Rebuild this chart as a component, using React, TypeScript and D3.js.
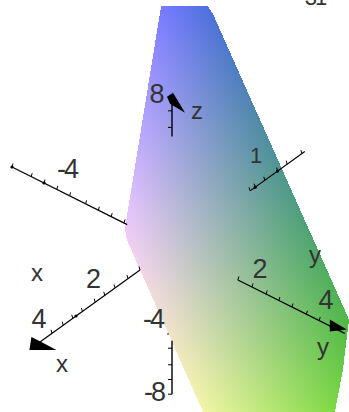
import React, { useEffect, useRef } from "react";
import * as d3 from "d3";

const WIDTH = 349;
const HEIGHT = 412;

// plane outline (taken at z = 0)
const surfaceX = [-6.04, -6.64, -6.5, -0.6, -0.4, 0.96, 2.14, 3.83, 0.4, 0.12];
const surfaceY = [-6.38, -5.52, -5.22, 4.8, 5.13, 6.3, 7.23, 4.8, -1.01, -1.35];

// three outline points and their colours fix the colour ramp of the plane
const anchorIndex = [9, 4, 7];
const anchorColors = ["#eecafa", "#4fb848", "#f2f5a5"];

// visible pieces of the axes
const xSegments = [[1, 4.3], [-4.15, -2.44]];
const ySegments = [[-5, -1.4], [2.06, 5.4]];
const zSegments = [[6, 8], [-8, -5.1]];

const xTicks = [1, 1.375, 1.78, 2.1, 2.4, 2.8, 3.1, 3.4, 3.75, -2.44, -2.6, -2.9, -3.3, -3.6, -4.06];
const yTicks = [-5, -4.4, -4, -3.6, -3.2, -2.7, -2.3, -1.9, -1.5, 2.06, 2.5, 2.94, 3.34, 3.75, 4.2, 4.6];
const zTicks = [7.4, 6.5, -5.5, -6.4, -7.2, -8];

const xMajor = [3, -2.6, -3.3];
const yMajor = [-5, -4];

function App() {
  const ref = useRef<SVGSVGElement>(null);

  useEffect(() => {
    drawChart();
  }, []);

  function drawChart() {
    const svg = d3.select(ref.current);
    svg.selectAll("*").remove();

    // oblique projection, each axis gets one scale per screen direction
    const xToH = d3.scaleLinear().domain([0, 1]).range([0, -32]);
    const xToV = d3.scaleLinear().domain([0, 1]).range([0, 23]);
    const yToH = d3.scaleLinear().domain([0, 1]).range([0, 32]);
    const yToV = d3.scaleLinear().domain([0, 1]).range([0, 16]);
    const zToV = d3.scaleLinear().domain([0, 1]).range([0, -18.4]);
    const origin = [172, 247];

    const project = (x: number, y: number, z: number): [number, number] => [
      origin[0] + xToH(x) + yToH(y),
      origin[1] + xToV(x) + yToV(y) + zToV(z),
    ];

    const outline = surfaceX.map((x, i) => project(x, surfaceY[i], 0));
    const line = d3.line();
    const closed = line(outline) + "Z";

    // colour ramp: each channel is linear over the plane
    const p0 = outline[anchorIndex[0]];
    const p1 = outline[anchorIndex[1]];
    const p2 = outline[anchorIndex[2]];
    const cols = anchorColors.map((c) => d3.rgb(c));
    const det =
      (p1[0] - p0[0]) * (p2[1] - p0[1]) - (p1[1] - p0[1]) * (p2[0] - p0[0]);

    const defs = svg.append("defs");
    const channels = [
      { key: "r", color: "#ff0000" },
      { key: "g", color: "#00ff00" },
      { key: "b", color: "#0000ff" },
    ];
    const surface = svg.append("g").style("isolation", "isolate");
    surface
      .append("path")
      .attr("d", closed)
      .attr("fill", "#000")
      .attr("shape-rendering", "crispEdges");

    channels.forEach(({ key, color }) => {
      const v0 = (cols[0] as any)[key];
      const d1 = (cols[1] as any)[key] - v0;
      const d2 = (cols[2] as any)[key] - v0;
      const a = (d1 * (p2[1] - p0[1]) - d2 * (p1[1] - p0[1])) / det;
      const b = (d2 * (p1[0] - p0[0]) - d1 * (p2[0] - p0[0])) / det;
      const n = a * a + b * b;
      const sx = p0[0] - (v0 * a) / n;
      const sy = p0[1] - (v0 * b) / n;
      const grad = defs
        .append("linearGradient")
        .attr("id", "grad-" + key)
        .attr("gradientUnits", "userSpaceOnUse")
        .attr("x1", sx)
        .attr("y1", sy)
        .attr("x2", sx + (255 * a) / n)
        .attr("y2", sy + (255 * b) / n);
      grad.append("stop").attr("offset", 0).attr("stop-color", "#000");
      grad.append("stop").attr("offset", 1).attr("stop-color", color);
      surface
        .append("path")
        .attr("d", closed)
        .attr("fill", `url(#grad-${key})`)
        .attr("shape-rendering", "crispEdges")
        .style("mix-blend-mode", "screen");
    });

    // axes
    const axes = svg.append("g").attr("stroke", "#000").attr("fill", "none");
    const drawSeg = (a: [number, number], b: [number, number], w: number) =>
      axes.append("path").attr("d", line([a, b])).attr("stroke-width", w);

    xSegments.forEach(([a, b]) => drawSeg(project(a, 0, 0), project(b, 0, 0), 1.2));
    ySegments.forEach(([a, b]) => drawSeg(project(0, a, 0), project(0, b, 0), 1.2));
    zSegments.forEach(([a, b]) => drawSeg(project(0, 0, a), project(0, 0, b), 1.4));

    xTicks.forEach((t) => {
      const p = project(t, 0, 0);
      drawSeg(p, [p[0] - 1, p[1] - 3.5], 1);
    });
    yTicks.forEach((t) => {
      const p = project(0, t, 0);
      drawSeg(p, [p[0] + 1, p[1] - 3.5], 1);
    });
    zTicks.forEach((t) => {
      const p = project(0, 0, t);
      drawSeg(p, [p[0] - 4, p[1]], 1);
    });

    const dots = svg.append("g").attr("fill", "#000");
    xMajor.forEach((t) => {
      const p = project(t, 0, 0);
      dots.append("circle").attr("cx", p[0]).attr("cy", p[1]).attr("r", 1.6);
    });
    yMajor.forEach((t) => {
      const p = project(0, t, 0);
      dots.append("circle").attr("cx", p[0]).attr("cy", p[1]).attr("r", 1.6);
    });

    // arrow heads, offsets from the axis tips
    const head = (tip: [number, number], pts: number[][]) =>
      dots.append("path").attr(
        "d",
        line(pts.map((o) => [tip[0] + o[0], tip[1] + o[1]] as [number, number])) + "Z"
      );
    head(project(0, 5.4, 0), [[2, -4], [-15, -14], [-15, -2]]);
    head(project(4.3, 0, 0), [[-3, -9], [-5, 4], [22, 4], [7, -4]]);
    head(project(0, 0, 8), [[-5, -3], [1, -7], [13, 13], [-2, 4]]);

    // text
    const font = "'Liberation Sans', sans-serif";
    const text = (s: string, px: number, py: number, size: number) =>
      svg
        .append("text")
        .attr("x", px)
        .attr("y", py)
        .attr("font-family", font)
        .attr("font-size", size)
        .attr("text-anchor", "middle")
        .attr("letter-spacing", s.length > 1 ? -2 : 0)
        .attr("fill", "#333")
        .text(s);

    const at2x = project(2, 0, 0);
    const at4x = project(4, 0, 0);
    const at2y = project(0, 2, 0);
    const at4y = project(0, 4, 0);
    const atM4y = project(0, -4, 0);
    const atM26x = project(-2.6, 0, 0);
    const at8z = project(0, 0, 8);
    const atM4z = project(0, 0, -4);
    const atM8z = project(0, 0, -8);
    text("2", at2x[0] - 14.5, at2x[1] - 5, 27);
    text("4", at4x[0] - 5, at4x[1] - 11, 27);
    text("2", at2y[0] + 24, at2y[1] - 1, 27);
    text("4", at4y[0] + 26, at4y[1] - 2, 27);
    text("-4", atM4y[0] + 23, atM4y[1] - 5, 27);
    text("1", atM26x[0] + 1, atM26x[1] - 24, 22);
    text("8", at8z[0] - 15, at8z[1] + 3, 27);
    text("-4", atM4z[0] - 19, atM4z[1] + 7, 27);
    text("-8", atM8z[0] - 18, atM8z[1] + 7, 27);
    text("31", 315, 5, 22);

    text("x", 37, 281, 24);
    text("x", 62, 372, 24);
    text("y", 315, 263, 24);
    text("y", 323, 355, 24);
    text("z", 197, 119, 24);

    svg
      .append("circle")
      .attr("cx", 168)
      .attr("cy", 334)
      .attr("r", 0.8)
      .attr("fill", "#000");
  }

  return (
    <svg
      ref={ref}
      width={WIDTH}
      height={HEIGHT}
      style={{ position: "absolute", left: 0, top: 0, background: "#fff" }}
    />
  );
}

export default App;
